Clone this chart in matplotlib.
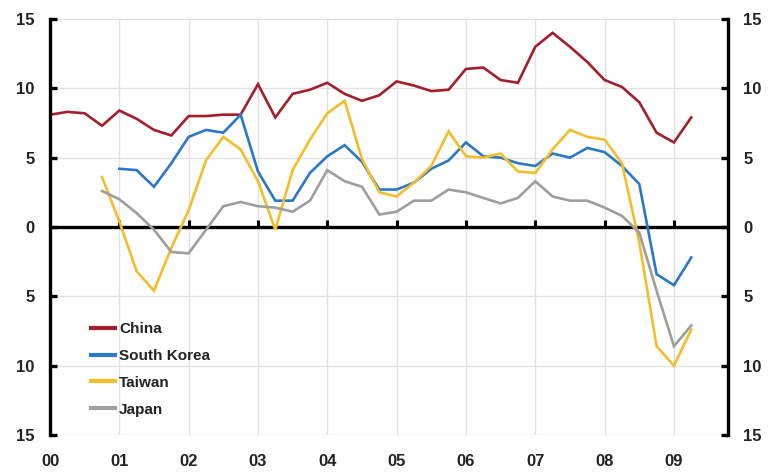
import numpy as np
import matplotlib.pyplot as plt
import matplotlib as mpl

# Quarterly real GDP growth, % y/y
china = [8.1, 8.3, 8.2, 7.3, 8.4, 7.8, 7.0, 6.6, 8.0, 8.0, 8.1, 8.1,
         10.3, 7.9, 9.6, 9.9, 10.4, 9.6, 9.1, 9.5, 10.5, 10.2, 9.8, 9.9,
         11.4, 11.5, 10.6, 10.4, 13.0, 14.0, 13.0, 11.9, 10.6, 10.1, 9.0, 6.8,
         6.1, 7.9]
korea = [4.2, 4.1, 2.9, 4.6, 6.5, 7.0, 6.8, 8.1,
         4.0, 1.9, 1.9, 3.9, 5.1, 5.9, 4.7, 2.7, 2.7, 3.2, 4.2, 4.8,
         6.1, 5.1, 5.0, 4.6, 4.4, 5.3, 5.0, 5.7, 5.4, 4.4, 3.1, -3.4,
         -4.2, -2.2]
taiwan = [3.6, 0.4, -3.2, -4.6, -1.5, 1.2, 4.8, 6.5, 5.6,
          3.3, -0.2, 4.1, 6.3, 8.2, 9.1, 4.9, 2.5, 2.2, 3.2, 4.4, 6.9,
          5.1, 5.0, 5.3, 4.0, 3.9, 5.6, 7.0, 6.5, 6.3, 4.6, -1.1, -8.6,
          -10.0, -7.4]
japan = [2.6, 2.0, 1.0, -0.2, -1.8, -1.9, -0.2, 1.5, 1.8,
         1.5, 1.4, 1.1, 1.9, 4.1, 3.3, 2.9, 0.9, 1.1, 1.9, 1.9, 2.7,
         2.5, 2.1, 1.7, 2.1, 3.3, 2.2, 1.9, 1.9, 1.4, 0.8, -0.4, -4.6,
         -8.6, -7.1]
start = {'China': 2000.0, 'South Korea': 2001.0, 'Taiwan': 2000.75, 'Japan': 2000.75}
years = list(range(2000, 2010))
year_labels = ['00', '01', '02', '03', '04', '05', '06', '07', '08', '09']
yticks = [-15, -10, -5, 0, 5, 10, 15]

series = [('China', china, '#A51E2B'),
          ('South Korea', korea, '#2B78C5'),
          ('Taiwan', taiwan, '#F2BE2A'),
          ('Japan', japan, '#9E9E9E')]

mpl.rcParams['font.family'] = ['Liberation Sans', 'DejaVu Sans']

fig = plt.figure(figsize=(7.72, 4.74), dpi=100)
ax = fig.add_axes([50/772, 39/474, 678/772, 416/474])

for name, vals, col in series:
    x = start[name] + np.arange(len(vals)) / 4
    ax.plot(x, vals, color=col, lw=1.9, label=name, solid_joinstyle='miter')

ax.set_xlim(2000, 2009.78)
ax.set_ylim(-15, 15)
ax.set_yticks(yticks)
ax.set_yticklabels([str(abs(v)) for v in yticks])
ax.set_xticks(years)
ax.set_xticklabels(year_labels)
ax.grid(True, color='#e2e2e2', lw=1.0)
ax.set_axisbelow(True)

for s in ['top', 'bottom']:
    ax.spines[s].set_visible(False)
for s in ['left', 'right']:
    ax.spines[s].set_linewidth(2.4)
    ax.spines[s].set_color('black')

ax.axhline(0, color='black', lw=2.4, zorder=1.5)
# year ticks sit on the zero line
ax.plot(years[1:], [0] * (len(years) - 1), ls='none', marker=2, ms=5,
        mew=2.2, color='black', zorder=1.5)

ax.tick_params(axis='x', length=0, pad=14, labelsize=12, colors='#222')
ax.tick_params(axis='y', direction='in', length=5, width=2.4, pad=11,
               labelsize=12, colors='black', labelcolor='#222',
               right=True, labelright=True)
for lab in ax.get_xticklabels() + ax.get_yticklabels():
    lab.set_fontweight('bold')

leg = ax.legend(loc='upper left', bbox_to_anchor=(0.04, 0.305), frameon=False,
                handlelength=1.6, handletextpad=0.25, labelspacing=0.85,
                fontsize=11)
for t in leg.get_texts():
    t.set_fontweight('bold')
    t.set_color('#222')
for h in leg.get_lines():
    h.set_linewidth(3)

fig.savefig('out.png', dpi=100, facecolor='white')
